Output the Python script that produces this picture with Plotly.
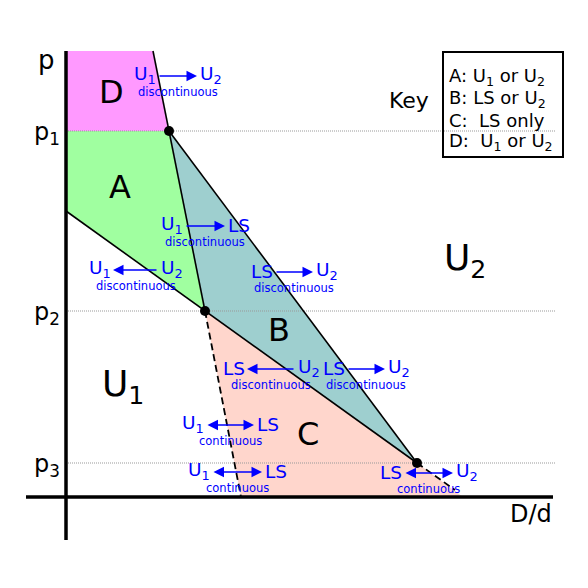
import plotly.graph_objects as go

# --- data (D/d on x, p on y; arbitrary units) ---
p_top = 446
p_levels = [366, 186, 34]
p_labels = ["p<sub>1</sub>", "p<sub>2</sub>", "p<sub>3</sub>"]
guide_end_x = 489

region_D_x = [0, 87, 103, 0]
region_D_y = [446, 446, 366, 366]
region_A_x = [0, 103, 139, 0]
region_A_y = [366, 366, 186, 286]
region_B_x = [103, 351, 139]
region_B_y = [366, 34, 186]
region_C_x = [139, 351, 397, 175]
region_C_y = [186, 34, 0, 0]

# triple points
tri_x = [103, 139, 351]
tri_y = [366, 186, 34]

# solid boundaries
bound_1_x = [87, 103, 139]        # U1 / U2 line through p1
bound_1_y = [446, 366, 186]
bound_2_x = [103, 351]            # LS / U2 line
bound_2_y = [366, 34]
bound_3_x = [0, 139, 351]         # A lower edge -> C upper edge
bound_3_y = [286, 186, 34]
# dashed (continuous) boundaries
dash_1_x = [139, 175]
dash_1_y = [186, 0]
dash_2_x = [351, 389]
dash_2_y = [34, 7]

region_colors = {"D": "#ff99ff", "A": "#a0ffa0", "B": "#9ecfcf", "C": "#ffd6cc"}

key_lines = [
    "A: U<sub>1</sub> or U<sub>2</sub>",
    "B: LS or U<sub>2</sub>",
    "C:\u00a0 LS only",
    "D:\u00a0 U<sub>1</sub> or U<sub>2</sub>",
]

# transitions: (left label, right label, tail x, head x, y, kind, arrow direction)
transitions = [
    ("U<sub>1</sub>", "U<sub>2</sub>", 92, 131, 421, "discontinuous", "right"),
    ("U<sub>1</sub>", "LS", 119, 159, 271, "discontinuous", "right"),
    ("U<sub>1</sub>", "U<sub>2</sub>", 47, 92, 227, "discontinuous", "left"),
    ("LS", "U<sub>2</sub>", 209, 247, 225, "discontinuous", "right"),
    ("LS", "U<sub>2</sub>", 181, 229, 128, "discontinuous", "left"),
    ("LS", "U<sub>2</sub>", 281, 319, 128, "discontinuous", "right"),
    ("U<sub>1</sub>", "LS", 140, 188, 72, "continuous", "both"),
    ("U<sub>1</sub>", "LS", 146, 196, 25, "continuous", "both"),
    ("LS", "U<sub>2</sub>", 338, 387, 24, "continuous", "both"),
]

BLUE = "#0000ff"
FONT = "DejaVu Sans"

fig = go.Figure()

# ─── filled regions ───
for name, xs, ys in [
    ("D", region_D_x, region_D_y),
    ("A", region_A_x, region_A_y),
    ("B", region_B_x, region_B_y),
    ("C", region_C_x, region_C_y),
]:
    fig.add_trace(go.Scatter(
        x=xs + xs[:1], y=ys + ys[:1], mode="lines", fill="toself",
        fillcolor=region_colors[name], line=dict(width=0), hoverinfo="skip",
    ))

# ─── dotted guides at p1, p2, p3 ───
for p in p_levels:
    fig.add_trace(go.Scatter(
        x=[0, guide_end_x], y=[p, p], mode="lines",
        line=dict(color="#999999", width=1, dash="1px,1px"), hoverinfo="skip",
    ))

# ─── phase boundaries ───
for xs, ys in [(bound_1_x, bound_1_y), (bound_2_x, bound_2_y), (bound_3_x, bound_3_y)]:
    fig.add_trace(go.Scatter(x=xs, y=ys, mode="lines",
                             line=dict(color="black", width=1.6), hoverinfo="skip"))
for xs, ys in [(dash_1_x, dash_1_y), (dash_2_x, dash_2_y)]:
    fig.add_trace(go.Scatter(x=xs, y=ys, mode="lines",
                             line=dict(color="black", width=1.8, dash="7px,4px"),
                             hoverinfo="skip"))

# ─── axes ───
fig.add_trace(go.Scatter(x=[0, 0], y=[p_top, -43], mode="lines",
                         line=dict(color="black", width=3.5), hoverinfo="skip"))
fig.add_trace(go.Scatter(x=[-40, 487], y=[0, 0], mode="lines",
                         line=dict(color="black", width=3.5), hoverinfo="skip"))

# ─── triple points ───
fig.add_trace(go.Scatter(x=tri_x, y=tri_y, mode="markers",
                         marker=dict(color="black", size=10), hoverinfo="skip"))

ann = []


def text(x, y, s, size, color="black", xanchor="center", yanchor="middle"):
    ann.append(dict(x=x, y=y, text=s, showarrow=False, xanchor=xanchor,
                    yanchor=yanchor, font=dict(size=size, color=color, family=FONT)))


# axis labels
text(-20, 437, "p", 26)
for p, lab in zip(p_levels, p_labels):
    text(-4, p - 2, lab, 24, xanchor="right")
text(465, -17, "D/d", 24)

# region letters and phases
text(45, 405, "D", 32)
text(54, 310, "A", 32)
text(213, 167, "B", 32)
text(242, 63, "C", 32)
text(57, 111, "U<sub>1</sub>", 36)
text(399, 237, "U<sub>2</sub>", 36)
text(343, 397, "Key", 22)

# key box
fig.add_shape(type="rect", x0=377, x1=497, y0=340, y1=445,
              line=dict(color="black", width=2), fillcolor="rgba(0,0,0,0)")
for i, line in enumerate(key_lines):
    text(381, 420 - i * 21.5, line, 18, xanchor="left")

# transition arrows
for left, right, x0, x1, y, kind, side in transitions:
    text(x0 - 0.5, y + 1, left, 18.5, BLUE, xanchor="right")
    text(x1 + 0.5, y + 1, right, 18.5, BLUE, xanchor="left")
    text((x0 + x1) / 2, y - 16, kind, 11.5, BLUE)
    head, tail = (x0, x1) if side == "left" else (x1, x0)
    a = dict(x=head, y=y, ax=tail, ay=y, xref="x", yref="y", axref="x", ayref="y",
             text="", showarrow=True, arrowhead=2, arrowsize=1.4, arrowwidth=1.5,
             arrowcolor=BLUE, standoff=0, startstandoff=0)
    if side == "both":
        a.update(arrowside="end+start", startarrowhead=2, startarrowsize=1.4)
    ann.append(a)

fig.update_layout(
    width=588, height=588,
    margin=dict(l=0, r=0, t=0, b=0),
    paper_bgcolor="white", plot_bgcolor="white",
    showlegend=False,
    annotations=ann,
    font=dict(family=FONT),
)
# the page body has an 8px margin; shift ranges so the drawing sits where the reference does
fig.update_xaxes(range=[-58, 530], visible=False, fixedrange=True)
fig.update_yaxes(range=[-99, 489], visible=False, fixedrange=True)

fig.write_html("out.html")
